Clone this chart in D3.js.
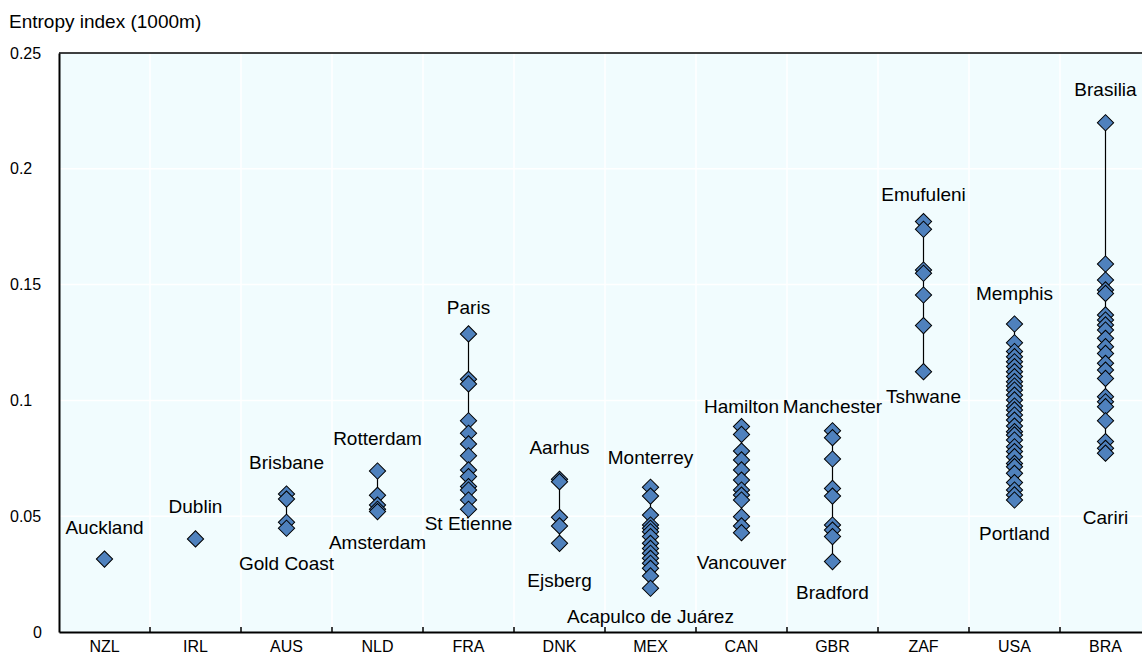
<!DOCTYPE html>
<html>
<head>
<meta charset="utf-8">
<script src="https://cdn.jsdelivr.net/npm/d3@7"></script>
<style>
  body { margin: 0; background: #fff; }
  svg { display: block; font-family: "Liberation Sans", Arial, sans-serif; }
</style>
</head>
<body>
<div class="graph-container"></div>
<script>
// data
const countries = ["NZL", "IRL", "AUS", "NLD", "FRA", "DNK", "MEX", "CAN", "GBR", "ZAF", "USA", "BRA"];

const NZL = [0.0315];
const IRL = [0.0402];
const AUS = [0.0596, 0.0574, 0.0474, 0.0448];
const NLD = [0.0695, 0.059, 0.0548, 0.053, 0.052];
const FRA = [0.1287, 0.1091, 0.1071, 0.0912, 0.0858, 0.0812, 0.0761, 0.070, 0.0671, 0.0628, 0.0613, 0.057, 0.053];
const DNK = [0.0659, 0.0649, 0.0495, 0.0458, 0.0383];
const MEX = [0.0625, 0.0587, 0.0505, 0.0462, 0.0448, 0.0433, 0.0412, 0.0383, 0.0361, 0.034, 0.0318, 0.0297, 0.0275, 0.0242, 0.0189];
const CAN = [0.0887, 0.0853, 0.0781, 0.0743, 0.070, 0.0656, 0.0613, 0.0591, 0.057, 0.0498, 0.0458, 0.0429];
const GBR = [0.0869, 0.0839, 0.0747, 0.062, 0.0587, 0.0462, 0.044, 0.0412, 0.0304];
const ZAF = [0.1772, 0.1739, 0.1563, 0.1549, 0.1455, 0.1323, 0.1124];
const USA = [0.133, 0.1249, 0.1211, 0.1189, 0.1167, 0.1146, 0.1124, 0.1103, 0.1081, 0.1062, 0.1045, 0.1023,
  0.1002, 0.0976, 0.0959, 0.0937, 0.0915, 0.0889, 0.0865, 0.0851, 0.0829, 0.080, 0.0779, 0.0757, 0.0728,
  0.0714, 0.0685, 0.0645, 0.0613, 0.0592, 0.057];
const BRA = [0.2199, 0.1589, 0.152, 0.1477, 0.1462, 0.1369, 0.1347, 0.1326, 0.1304, 0.1268, 0.1232, 0.1203,
  0.116, 0.1131, 0.1095, 0.1016, 0.0994, 0.0973, 0.0912, 0.0822, 0.0793, 0.0772];

const seriesValues = [NZL, IRL, AUS, NLD, FRA, DNK, MEX, CAN, GBR, ZAF, USA, BRA];

const topCities = ["Auckland", "Dublin", "Brisbane", "Rotterdam", "Paris", "Aarhus", "Monterrey", "Hamilton", "Manchester", "Emufuleni", "Memphis", "Brasilia"];
const bottomCities = [null, null, "Gold Coast", "Amsterdam", "St Etienne", "Ejsberg", "Acapulco de Juárez", "Vancouver", "Bradford", "Tshwane", "Portland", "Cariri"];

const yTicks = [0, 0.05, 0.1, 0.15, 0.2, 0.25];

// label distance from the end diamond (px), as placed in the original
const topNudge = [32, 33, 32, 33, 27, 32, 30, 20, 24, 27, 31, 33];
const bottomNudge = [0, 0, 35, 31, 14, 37, 28, 30, 31, 25, 33, 64];

const dims = { width: 1142, height: 658, left: 59, right: 1151, top: 53, bottom: 632 };

const svg = d3.select(".graph-container")
  .append("svg")
  .attr("width", dims.width)
  .attr("height", dims.height);

const x = d3.scaleBand().domain(countries).range([dims.left, dims.right]);
const y = d3.scaleLinear().domain([0, 0.25]).range([dims.bottom, dims.top]);

// plot background
svg.append("rect")
  .attr("x", dims.left).attr("y", dims.top)
  .attr("width", dims.right - dims.left).attr("height", dims.bottom - dims.top)
  .attr("fill", "#f1fcfe");

// grid
svg.append("g").selectAll("line").data(yTicks.slice(1, -1)).enter().append("line")
  .attr("x1", dims.left).attr("x2", dims.right)
  .attr("y1", d => y(d)).attr("y2", d => y(d))
  .attr("stroke", "#fff").attr("stroke-width", 1.5);

svg.append("g").selectAll("line").data(countries.slice(1)).enter().append("line")
  .attr("x1", d => x(d)).attr("x2", d => x(d))
  .attr("y1", dims.top).attr("y2", dims.bottom)
  .attr("stroke", "#fff").attr("stroke-width", 1.5);

// frame
svg.append("line").attr("x1", dims.left).attr("x2", dims.right).attr("y1", dims.top).attr("y2", dims.top)
  .attr("stroke", "#000").attr("stroke-width", 1.5);
svg.append("line").attr("x1", dims.right).attr("x2", dims.right).attr("y1", dims.top).attr("y2", dims.bottom)
  .attr("stroke", "#000").attr("stroke-width", 1.5);

// y axis
const yAxis = svg.append("g")
  .attr("transform", `translate(${dims.left},0)`)
  .call(d3.axisLeft(y).tickValues(yTicks).tickFormat(d3.format("~g")).tickSize(0));
yAxis.select(".domain").attr("stroke", "#000").attr("stroke-width", 2);
yAxis.selectAll("text")
  .attr("font-size", 16).attr("fill", "#000")
  .attr("font-family", "'Liberation Sans', Arial, sans-serif")
  .attr("text-anchor", d => d === 0 ? "end" : "start")
  .attr("x", d => d === 0 ? -17 : -49);

// x axis
const xAxis = svg.append("g")
  .attr("transform", `translate(0,${dims.bottom})`)
  .call(d3.axisBottom(x).tickSize(0).tickPadding(9));
xAxis.select(".domain").attr("stroke", "#000").attr("stroke-width", 2);
xAxis.selectAll("text")
  .attr("font-size", 16).attr("fill", "#000")
  .attr("font-family", "'Liberation Sans', Arial, sans-serif");

svg.append("g").selectAll("line").data(countries.slice(1)).enter().append("line")
  .attr("x1", d => x(d)).attr("x2", d => x(d))
  .attr("y1", dims.bottom).attr("y2", dims.bottom - 5)
  .attr("stroke", "#000").attr("stroke-width", 1.5);

// range lines
const cx = c => x(c) + x.bandwidth() / 2;

svg.append("g").selectAll("line")
  .data(countries.filter((c, i) => seriesValues[i].length > 1))
  .enter().append("line")
  .attr("x1", d => cx(d)).attr("x2", d => cx(d))
  .attr("y1", d => y(d3.max(seriesValues[countries.indexOf(d)])))
  .attr("y2", d => y(d3.min(seriesValues[countries.indexOf(d)])))
  .attr("stroke", "#000").attr("stroke-width", 1.2);

// diamonds
const points = [];
countries.forEach((c, i) => seriesValues[i].forEach(v => points.push({ country: c, value: v })));

const diamond = d3.symbol().type(d3.symbolSquare).size(132);

svg.append("g").selectAll("path").data(points).enter().append("path")
  .attr("d", diamond)
  .attr("transform", d => `translate(${cx(d.country)},${y(d.value)}) rotate(45)`)
  .attr("fill", "#4f81bd")
  .attr("stroke", "#000")
  .attr("stroke-width", 1);

// city labels
const labels = svg.append("g")
  .attr("font-size", 19)
  .attr("fill", "#000")
  .attr("text-anchor", "middle");

labels.selectAll("text.top").data(countries).enter().append("text")
  .attr("class", "top")
  .attr("x", d => cx(d))
  .attr("y", (d, i) => y(d3.max(seriesValues[i])) - topNudge[i])
  .attr("dy", "0.35em")
  .text((d, i) => topCities[i]);

labels.selectAll("text.bottom").data(countries.filter((c, i) => bottomCities[i])).enter().append("text")
  .attr("class", "bottom")
  .attr("x", d => cx(d))
  .attr("y", d => {
    const i = countries.indexOf(d);
    return y(d3.min(seriesValues[i])) + bottomNudge[i];
  })
  .attr("dy", "0.35em")
  .text(d => bottomCities[countries.indexOf(d)]);

// axis title
svg.append("text")
  .attr("x", 9).attr("y", 28)
  .attr("font-size", 19)
  .attr("fill", "#000")
  .text("Entropy index (1000m)");
</script>
</body>
</html>
